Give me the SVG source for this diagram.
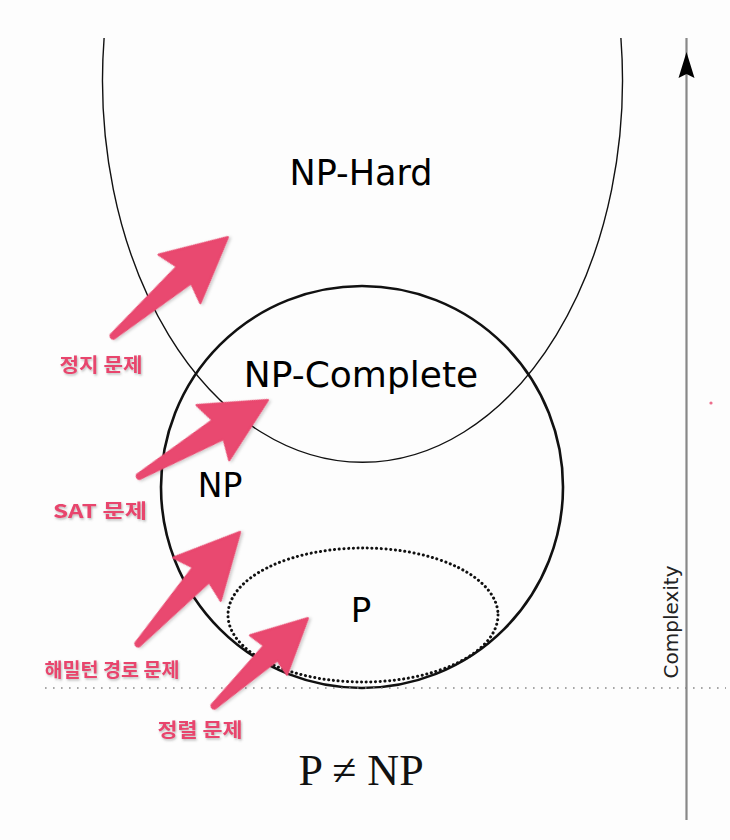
<svg xmlns="http://www.w3.org/2000/svg" width="730" height="840" viewBox="0 0 730 840">
  <defs>
    <style>
      .set { fill: none; stroke: #111; }
      .big { font-family: "DejaVu Sans", "Liberation Sans", sans-serif; fill: #000; text-anchor: middle; }
      .lbl { font-family: "Noto Sans CJK KR", "Noto Sans", sans-serif; font-weight: bold; font-size: 19px; fill: #e8446d; text-anchor: middle; filter: url(#tshadow); }
      .arrow { fill: #e9486f; stroke: #e9486f; stroke-width: 2; stroke-linejoin: round; filter: url(#ashadow); }
    </style>
    <filter id="ashadow" x="-20%" y="-20%" width="140%" height="140%">
      <feDropShadow dx="1" dy="2" stdDeviation="1.5" flood-color="#000" flood-opacity="0.2"/>
    </filter>
    <filter id="tshadow" x="-10%" y="-30%" width="120%" height="160%">
      <feDropShadow dx="1" dy="1.5" stdDeviation="1" flood-color="#666" flood-opacity="0.45"/>
    </filter>
  </defs>

  <rect width="730" height="840" fill="#fdfdfd"/>

  <g id="np-hard">
    <path class="set" stroke-width="1.4" d="M104.1 38 A260 382 0 1 0 620.9 38"/>
    <text class="big" x="361" y="185" font-size="35">NP-Hard</text>
  </g>

  <g id="np">
    <circle class="set" stroke-width="2.6" cx="362" cy="487" r="201"/>
    <text class="big" x="220" y="497" font-size="33">NP</text>
  </g>

  <g id="np-complete">
    <text class="big" x="361" y="387" font-size="36">NP-Complete</text>
  </g>

  <g id="p">
    <ellipse cx="363" cy="615" rx="135" ry="67" fill="none" stroke="#111" stroke-width="3" stroke-linecap="round" stroke-dasharray="0.1 4.6"/>
    <text class="big" x="361" y="622" font-size="34">P</text>
  </g>

  <g id="baseline">
    <line x1="45" y1="688" x2="726" y2="688" stroke="#8a8a8a" stroke-width="1.6" stroke-dasharray="1.6 6.4"/>
  </g>

  <g id="complexity-axis">
    <line x1="686.5" y1="820" x2="686.5" y2="38" stroke="#888" stroke-width="2.2"/>
    <path d="M686.5 52 L678.5 78 L686.5 74 L694.5 78 Z" fill="#000"/>
    <text x="678" y="622" transform="rotate(-90 678 622)" font-family="DejaVu Sans, sans-serif" font-size="20" fill="#222" text-anchor="middle">Complexity</text>
  </g>

  <g id="p-neq-np">
    <text x="361" y="785" font-family="Liberation Serif, serif" font-size="44" fill="#111" text-anchor="middle">P ≠ NP</text>
  </g>

  <g id="connectors">
    <path class="arrow" transform="translate(112 337) rotate(-40.76)" d="M0 -2.5 L95 -11 L89 -32 L153 0 L89 32 L95 11 L0 2.5 Q-2 0 0 -2.5 Z"/>
    <path class="arrow" transform="translate(138 477) rotate(-30.64)" d="M0 -2.5 L93 -11 L87 -32 L151 0 L87 32 L93 11 L0 2.5 Q-2 0 0 -2.5 Z"/>
    <path class="arrow" transform="translate(137 645) rotate(-47.65)" d="M0 -2.5 L95 -11 L89 -32 L153 0 L89 32 L95 11 L0 2.5 Q-2 0 0 -2.5 Z"/>
    <path class="arrow" transform="translate(213 707) rotate(-43.13)" d="M0 -2.5 L79 -10 L76 -27 L130 0 L76 27 L79 10 L0 2.5 Q-2 0 0 -2.5 Z"/>
  </g>

  <g id="label-halting">
    <text class="lbl" x="101" y="372" textLength="83" lengthAdjust="spacingAndGlyphs">정지 문제</text>
  </g>
  <g id="label-sat">
    <text class="lbl" x="100" y="518" textLength="94" lengthAdjust="spacingAndGlyphs">SAT 문제</text>
  </g>
  <g id="label-hamilton">
    <text class="lbl" x="112" y="677" textLength="135" lengthAdjust="spacingAndGlyphs">해밀턴 경로 문제</text>
  </g>
  <g id="label-sort">
    <text class="lbl" x="200" y="737" textLength="85" lengthAdjust="spacingAndGlyphs">정렬 문제</text>
  </g>

  <circle cx="711" cy="403" r="1.6" fill="#e9486f" opacity="0.8"/>
</svg>
